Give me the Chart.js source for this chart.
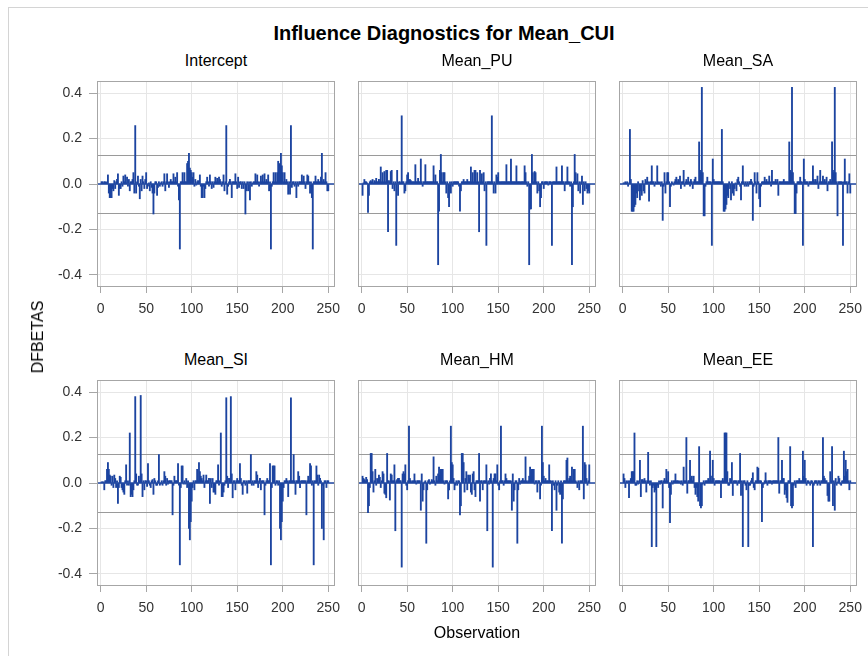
<!DOCTYPE html>
<html>
<head>
<meta charset="utf-8">
<script src="https://cdn.jsdelivr.net/npm/chart.js@4.4.1/dist/chart.umd.min.js"></script>
<style>
  body { margin: 0; background: #fff; }
  #page { position: relative; width: 868px; height: 656px; overflow: hidden; font-family: "Liberation Sans", Arial, sans-serif; }
  #border { position: absolute; left: 8px; top: 7px; width: 900px; height: 700px; border: 1px solid #d4d4d4; }
  .txt { position: absolute; color: #000; white-space: nowrap; line-height: 1; }
  canvas { position: absolute; }
</style>
</head>
<body>
<div id="page"><div id="border"></div></div>
<script>
const xTicks = [0, 50, 100, 150, 200, 250];
const yTicks = [-0.4, -0.2, 0.0, 0.2, 0.4];
const cutoff = 0.1265;
const panelNames = ["Intercept", "Mean_PU", "Mean_SA", "Mean_SI", "Mean_HM", "Mean_EE"];

// DFBETAS per observation 1..250
const intercept = [
  .01, .01, .005, .01, .01, .005, .01, .04, -.04, -.06,
  -.06, -.06, -.02, -.03, .015, -.02, .01, .02, .045, -.05,
  -.02, -.02, .01, -.01, .035, .01, .04, .005, .03, -.01,
  .02, -.03, .01, .01, .02, .05, -.04, .257, -.04, .01,
  .035, -.01, -.065, .02, -.03, .035, .01, -.02, .02, .05,
  -.02, -.01, .005, -.03, .01, -.015, -.04, -.132, -.04, .01,
  .01, -.05, -.015, .01, -.01, .005, .01, -.01, .01, .045,
  -.03, .01, .045, .01, -.015, .01, .02, .01, .01, .045,
  .01, .03, .01, .05, -.01, -.07, -.286, .01, .01, .05,
  .01, .05, .01, .01, .09, .1, .135, .07, .06, .05,
  .03, .05, -.01, .02, -.005, .01, .015, .01, .04, -.01,
  -.06, -.06, -.01, -.06, -.02, .01, .03, .01, -.01, .04,
  .01, -.02, .01, -.015, .01, .03, .01, .025, .01, .03,
  .02, .01, -.01, .01, .04, -.03, .01, .257, -.045, -.01,
  .01, .02, .01, -.06, .01, .01, .01, .045, .01, -.02,
  .03, -.015, .01, .01, -.02, .01, -.02, .01, -.132, -.03,
  .01, -.03, .01, -.07, .01, -.01, .005, .01, .01, .045,
  .01, .04, .01, -.01, .01, .035, .01, .04, .01, .045,
  .01, .02, .01, .04, -.03, .01, -.286, -.01, .01, .05,
  .01, .05, .01, .05, .1, .09, .01, .135, .08, .05,
  .01, .05, .01, .02, .01, -.045, .01, -.045, .257, -.015,
  .01, .01, -.01, .01, -.06, .01, -.01, .01, .01, .01,
  .04, .01, .035, .01, -.02, .01, .04, .035, .01, -.04,
  .01, -.06, -.286, .01, .01, .035, .01, .01, .02, .01,
  .01, .03, .135, .01, .02, .01, .05, .01, -.03, -.03
];
const meanPU = [
  -.05, .005, .02, .01, .01, .005, -.125, -.05, .01, .015,
  .01, .02, .005, .015, .01, .025, .01, .01, .02, .01,
  .075, .01, .05, .01, .055, .01, .06, .06, -.21, .015,
  .01, .055, .06, -.02, .01, -.03, .01, -.27, .06, -.05,
  .01, .01, .005, .3, .01, .01, -.04, -.03, .01, .04,
  .05, .01, .02, .015, .01, .01, .01, .01, .085, .01,
  .01, .025, .01, .01, .11, .01, -.01, .01, .01, .085,
  .01, .01, .01, .01, .01, .01, .01, .01, .08, .01,
  .04, .01, .01, -.355, -.12, .06, .13, .05, .01, .05,
  .05, .01, -.04, .01, -.06, -.1, .01, -.04, .01, -.01,
  .01, .01, .01, .01, .01, .01, -.01, -.12, -.03, .01,
  .01, .02, .01, .01, .01, .02, .01, .01, .01, .075,
  .01, .05, .01, .06, .06, .01, .05, .01, -.21, .06,
  .01, .045, .01, .05, -.03, .01, -.27, .01, .01, .01,
  .01, .01, .3, .01, -.04, .01, -.04, .04, .03, .05,
  .01, .01, .01, .01, .01, .01, .01, .01, .085, .01,
  .01, .01, .01, .11, .01, .01, .01, .01, .01, .08,
  .01, .01, .01, .01, .01, .01, .01, .01, .08, .05,
  .01, -.01, .01, -.355, -.11, -.11, .13, .05, .01, .055,
  .05, .01, -.04, .01, -.03, -.1, -.06, .01, .01, -.02,
  .01, .01, .01, .01, -.005, .01, .01, .01, -.27, .01,
  .01, .01, .01, .075, .01, .01, .01, .01, .01, .08,
  .01, .01, -.03, .01, .01, .075, .01, .01, -.01, .01,
  -.355, -.1, .01, .13, .05, .01, .045, -.03, .01, -.04,
  .01, .035, -.09, .01, -.03, .01, -.02, -.04, -.03, -.04
];
const meanSA = [
  .005, .005, .01, .005, .01, -.01, .005, .24, .02, -.12,
  -.12, -.12, -.1, -.09, -.04, -.06, .01, -.03, -.07, -.03,
  -.05, .015, -.03, -.04, .02, .01, .03, .01, -.075, .01,
  .01, .08, .01, .01, -.01, .01, .005, .08, .01, .005,
  .01, -.01, .01, -.16, -.01, .05, -.04, .01, .05, .05,
  .01, -.1, -.01, .01, .005, -.005, .01, .02, .03, .01,
  .02, .01, .035, -.02, .01, .01, .06, -.01, .01, .02,
  .01, .03, .01, -.01, .02, .01, -.02, .01, .02, .03,
  .01, .01, .01, .185, .06, .05, .425, .05, -.14, -.14,
  -.01, .01, .03, .01, .01, .01, .01, -.27, .11, .02,
  .01, .01, .01, .01, .01, .01, .01, .01, .24, .01,
  -.12, -.12, -.11, -.09, -.05, -.06, .01, -.02, -.07, .01,
  -.04, -.05, -.02, .005, -.03, .02, .03, .01, -.01, -.07,
  .01, .08, .01, -.01, .01, -.01, .01, -.01, .01, .01,
  .02, .01, -.16, -.01, .05, .01, -.04, .05, .01, -.065,
  -.1, -.01, .01, .01, .01, .03, .01, .02, .01, .01,
  .035, .01, -.01, .06, .01, .01, .01, .02, .01, .02,
  -.05, .01, .01, .01, .01, .01, .02, .01, .01, .01,
  .01, .01, .185, .06, .05, .425, .05, .01, -.13, -.13,
  -.04, .01, .01, .01, .03, .01, .01, -.27, .11, .02,
  .01, .01, .01, -.01, .01, .01, .01, .01, .08, .02,
  .01, .02, .01, .035, -.02, .01, .06, .01, .01, .035,
  .01, .02, .01, .03, -.03, .01, .01, .02, .01, .185,
  .06, .05, .425, .05, .01, -.14, .01, .01, .01, .01,
  .01, -.27, .01, .11, .01, .01, -.04, .01, .045, -.04
];
const meanSI = [
  .005, .005, .005, -.03, .01, .01, .06, .09, .06, .035,
  .03, -.01, .03, -.02, .035, .02, -.02, .01, -.09, -.02,
  .03, .025, -.02, -.03, -.04, -.05, .01, .08, -.01, .01,
  -.01, .22, -.06, -.05, -.06, -.03, .01, .38, .04, -.01,
  -.01, .03, .01, .385, .04, -.06, .01, -.03, .01, .01,
  -.015, .085, .01, -.01, -.02, .01, .015, -.05, .02, .01,
  -.01, -.01, .01, .125, -.01, -.005, .01, -.01, .01, .05,
  .03, -.01, .02, -.005, .01, .01, .01, .01, -.14, -.01,
  .03, .01, .01, .01, .085, -.01, -.36, -.02, .075, .075,
  -.005, .01, -.005, .02, -.02, .01, -.2, -.25, -.17, -.08,
  -.02, .01, -.03, .01, .01, .06, .01, .09, .05, .03,
  .02, .01, .035, -.02, .01, .035, .01, .01, .02, -.09,
  .02, -.02, .02, -.04, -.04, -.05, .01, .01, .08, -.01,
  .01, .22, -.06, -.06, -.04, -.01, .01, .375, .03, -.02,
  .02, .01, .38, .04, -.065, .01, .01, -.03, .01, .02,
  .01, .01, .085, .02, -.01, -.05, .01, .01, -.01, .01,
  -.045, .01, .01, .01, .125, -.01, .01, -.01, .01, .01,
  .05, .035, -.02, .01, .02, -.03, .01, .01, .01, -.14,
  -.01, .01, .02, .01, .01, .085, -.36, -.02, .075, .075,
  .075, -.01, .01, .01, -.01, .01, -.2, -.25, -.17, -.08,
  -.02, .01, .01, .02, .01, -.06, .01, .01, .375, .01,
  .01, .125, .01, -.05, .01, .01, .05, .03, -.02, .01,
  .01, .01, .01, .01, .01, -.14, .01, .03, .01, .085,
  .075, -.01, .01, -.36, .01, .01, .075, .035, -.01, .035,
  .02, .01, -.2, -.01, -.25, .01, .01, -.02, .01, .01
];
const meanHM = [
  .03, .02, .015, .01, .025, .015, -.13, -.1, -.02, .13,
  .13, .05, -.04, .01, .06, -.01, .02, .01, .035, .025,
  -.02, .01, .05, .04, -.045, -.05, -.065, .13, .01, .01,
  -.075, .04, .035, .01, .01, .08, -.21, .01, .015, .02,
  .02, .01, .01, -.37, .04, .05, .04, .08, -.01, -.03,
  .01, .25, .02, .01, .005, .01, .01, .04, .01, -.005,
  .01, .01, .01, .01, -.12, .04, -.08, -.03, .005, .01,
  -.265, -.03, .01, .015, -.005, .005, .015, .01, .115, .01,
  -.01, .03, .01, .04, .07, .035, .06, .06, .06, .01,
  -.005, .01, .01, .01, -.07, -.03, .01, .25, .09, .08,
  .02, -.03, -.01, .01, -.01, .01, .01, -.14, -.1, .13,
  .13, .09, -.04, .02, .05, -.03, .035, .02, .035, -.04,
  -.05, .04, .05, -.03, -.06, .01, .01, .01, .13, -.08,
  .01, .01, -.03, .01, .01, .01, .08, -.21, .01, -.005,
  .02, .04, .01, -.37, .02, .04, .04, .01, .08, -.01,
  -.03, .01, .25, .01, .01, -.01, .01, .04, .02, .01,
  .01, .01, .01, .01, -.12, .04, -.08, -.03, .01, .01,
  -.265, -.03, .02, -.005, .01, .01, .02, .01, .01, .115,
  .01, .005, .01, .03, .07, .03, .06, .06, .06, -.005,
  .01, .01, -.04, .01, .01, -.07, -.01, .25, .09, .03,
  .01, .02, .01, .01, .01, .08, .01, .01, -.21, .01,
  -.01, -.03, .01, -.12, -.01, .01, -.04, -.05, .01, -.265,
  -.07, .01, .01, .01, .1, .11, .01, .02, .03, .01,
  .07, .01, .06, .06, .01, .005, -.02, .01, -.03, .01,
  .01, .01, .25, -.07, .09, .08, .02, -.01, .01, .08
];
const meanEE = [
  .04, .02, -.02, .01, .005, .01, -.065, .01, .02, .05,
  .05, .05, .22, -.01, -.01, .01, -.005, .01, .1, -.06,
  .015, .015, .01, .02, .01, -.04, .01, .135, .01, -.01,
  .01, -.28, -.02, -.01, -.04, -.03, -.28, -.01, -.02, .01,
  -.005, .01, .01, -.11, .01, .02, .01, .06, .01, .05,
  -.02, -.175, -.05, .01, -.005, .01, .01, .04, .01, .01,
  .01, .005, .01, -.005, .01, -.01, .07, .01, .01, .2,
  -.045, .01, .01, .1, .02, .03, .01, .03, -.02, -.05,
  -.02, -.06, -.08, .16, -.1, -.11, -.1, -.005, .01, -.01,
  .01, .01, .01, .02, .01, .14, .03, .01, .1, .02,
  -.01, .01, .01, .01, .01, .01, .01, -.065, .01, .02,
  .01, .22, .22, .22, .05, -.01, -.01, .02, .01, .09,
  -.055, .01, .01, .01, .01, -.01, .01, .01, .13, -.055,
  .01, -.28, .01, .01, -.01, -.03, .01, -.28, -.01, -.01,
  .01, .02, .045, -.02, -.03, .01, .01, .07, .065, .01,
  .01, .01, -.17, -.02, -.005, .01, .045, .01, -.01, .01,
  .01, .01, .01, -.005, .01, .01, .01, .01, .01, .01,
  .2, -.045, .01, .01, .1, .02, .02, -.05, -.03, -.065,
  -.085, .01, .01, .16, -.1, -.11, -.1, -.01, .01, -.02,
  .01, .01, .01, .02, .01, .01, .01, .14, .03, .1,
  .02, -.01, .01, .01, .005, -.01, .01, .01, -.28, -.01,
  .01, .01, .01, -.01, .01, .01, -.01, .01, .01, .2,
  .03, .02, .01, .01, -.055, -.08, -.08, .05, .01, .16,
  -.1, .01, -.12, .02, -.01, .005, .03, .02, -.005, -.01,
  .01, .01, .14, .03, .1, .05, .06, .01, -.03, .01
];
const series = [intercept, meanPU, meanSA, meanSI, meanHM, meanEE];

const FONT = '"Liberation Sans", Arial, sans-serif';
const BLUE = "#1c44a0";
const frameX = [97, 358, 619];
const frameY = [81, 380];
const FW = 238;
const FH = 206;
const page = document.getElementById("page");

function addText(text, cx, baseline, size, opts = {}) {
  const el = document.createElement("div");
  el.className = "txt";
  el.textContent = text;
  el.style.fontSize = size + "px";
  if (opts.bold) el.style.fontWeight = "bold";
  if (opts.rotate) {
    el.style.left = cx + "px";
    el.style.top = baseline + "px";
    el.style.transform = "translate(-50%, -50%) rotate(-90deg)";
  } else {
    el.style.left = cx + "px";
    el.style.top = (baseline - 0.846 * size) + "px";
    el.style.transform = "translateX(-50%)";
  }
  page.appendChild(el);
}

const panelDecor = {
  id: "panelDecor",
  beforeDatasetsDraw(chart) {
    const { ctx, chartArea: a, scales: { y } } = chart;
    ctx.save();
    ctx.strokeStyle = "#9a9a9a";
    ctx.lineWidth = 1;
    [cutoff, -cutoff].forEach((v) => {
      const py = Math.round(y.getPixelForValue(v)) + 0.5;
      ctx.beginPath();
      ctx.moveTo(a.left, py);
      ctx.lineTo(a.right, py);
      ctx.stroke();
    });
    ctx.restore();
  },
  afterDatasetsDraw(chart) {
    const { ctx, chartArea: a, scales: { y } } = chart;
    const py = y.getPixelForValue(0);
    ctx.save();
    ctx.strokeStyle = BLUE;
    ctx.lineWidth = 1.5;
    ctx.beginPath();
    ctx.moveTo(a.left, py);
    ctx.lineTo(a.right, py);
    ctx.stroke();
    ctx.restore();
  },
  afterDraw(chart) {
    const { ctx, chartArea: a } = chart;
    ctx.save();
    ctx.strokeStyle = "#a6a6a6";
    ctx.lineWidth = 1;
    ctx.strokeRect(a.left + 0.5, a.top + 0.5, a.width - 1, a.height - 1);
    ctx.restore();
  },
};

function drawPanel(k) {
  const col = k % 3;
  const row = Math.floor(k / 3);
  const padL = col === 0 ? 60 : 12;
  const padT = 2, padR = 14, padB = 34;
  const canvas = document.createElement("canvas");
  canvas.width = FW + padL + padR;
  canvas.height = FH + padT + padB;
  canvas.style.left = frameX[col] - padL + "px";
  canvas.style.top = frameY[row] - padT + "px";
  page.appendChild(canvas);

  const values = series[k];
  new Chart(canvas, {
    type: "bar",
    data: {
      datasets: [
        {
          data: values.map((v, i) => ({ x: i + 1, y: v })),
          backgroundColor: BLUE,
          borderWidth: 0,
          barThickness: 1.2,
        },
      ],
    },
    options: {
      responsive: false,
      animation: false,
      events: [],
      layout: { autoPadding: false, padding: { top: padT, right: padR, left: 0, bottom: 0 } },
      plugins: { legend: { display: false }, tooltip: { enabled: false } },
      scales: {
        x: {
          type: "linear",
          min: -4,
          max: 257.4,
          offset: false,
          afterBuildTicks: (s) => { s.ticks = xTicks.map((v) => ({ value: v })); },
          afterFit: (s) => {
            s.height = padB;
            s.paddingLeft = 0;
            s.paddingRight = 0;
          },
          border: { display: false },
          grid: { color: "#e6e6e6", tickColor: "#a6a6a6", tickLength: 6, offset: false },
          ticks: { font: { family: FONT, size: 14 }, color: "#333", padding: 8, maxRotation: 0, autoSkip: false },
        },
        y: {
          min: -0.453,
          max: 0.453,
          afterBuildTicks: (s) => { s.ticks = yTicks.map((v) => ({ value: v })); },
          afterFit: (s) => {
            s.width = padL;
            s.paddingTop = 0;
            s.paddingBottom = 0;
          },
          border: { display: false },
          grid: { color: "#e6e6e6", tickColor: "#a6a6a6", tickLength: 8, drawTicks: col === 0 },
          ticks: {
            display: col === 0,
            font: { family: FONT, size: 14 },
            color: "#333",
            padding: 7,
            callback: (v) => Number(v).toFixed(1),
          },
        },
      },
    },
    plugins: [panelDecor],
  });

  addText(panelNames[k], frameX[col] + FW / 2, row === 0 ? 66.5 : 366, 16);
}

for (let k = 0; k < 6; k++) drawPanel(k);

addText("Influence Diagnostics for Mean_CUI", 444, 40, 20, { bold: true });
addText("Observation", 477, 639, 16);
addText("DFBETAS", 38, 337, 16, { rotate: true });
</script>
</body>
</html>
